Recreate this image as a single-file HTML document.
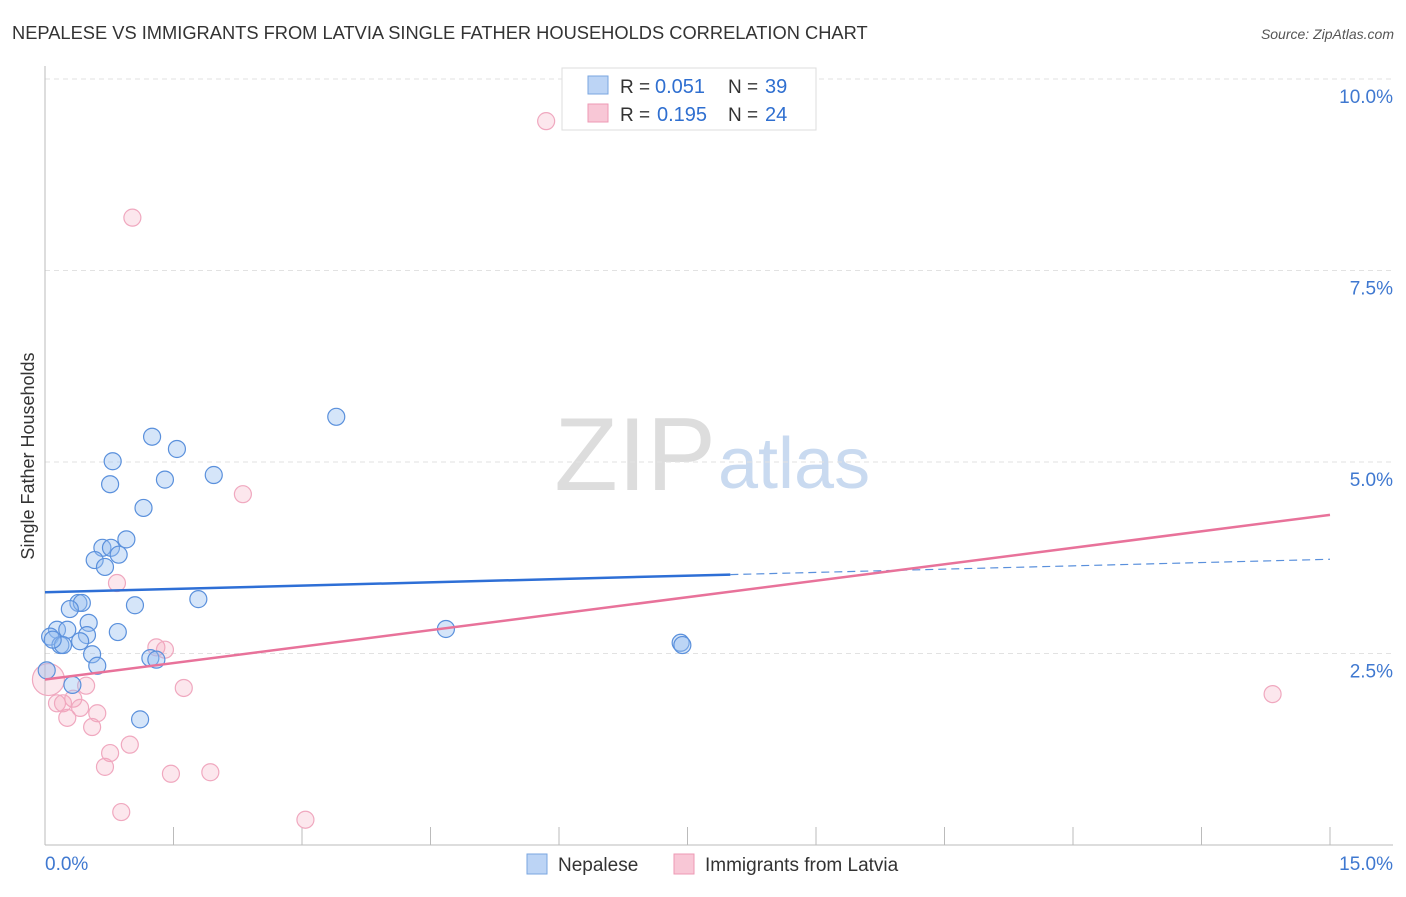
<!DOCTYPE html>
<html><head><meta charset="utf-8"><style>
body{margin:0;background:#fff;font-family:"Liberation Sans",sans-serif}
svg text{font-family:"Liberation Sans",sans-serif}
</style></head><body>
<svg id="c" width="1406" height="892">
<text x="12" y="39" font-size="18.3" fill="#333">NEPALESE VS IMMIGRANTS FROM LATVIA SINGLE FATHER HOUSEHOLDS CORRELATION CHART</text>
<text x="1394" y="39" font-size="14" fill="#555" font-style="italic" text-anchor="end">Source: ZipAtlas.com</text>
<text x="716" y="490" font-size="104" fill="#ddd" font-family="Liberation Serif" text-anchor="end">ZIP</text>
<text x="718" y="488" font-size="72" fill="#c9daf0">atlas</text>
<text x="34" y="456" font-size="18" fill="#333" transform="rotate(-90 34 456)" text-anchor="middle">Single Father Households</text>
<g id="grid"></g><g id="pts"></g><g id="lines"></g>
<g>
<rect x="562" y="68" width="254" height="62" fill="#fff" stroke="#ddd"/>
<rect x="588" y="76" width="20" height="18" fill="#bcd4f5" stroke="#7aa6e0"/>
<rect x="588" y="104" width="20" height="18" fill="#f8c7d6" stroke="#ee9ab4"/>
<text x="620" y="93" font-size="19" fill="#333">R =</text>
<text x="655" y="93" font-size="20" fill="#2f6fd0">0.051</text>
<text x="728" y="93" font-size="19" fill="#333">N =</text>
<text x="765" y="93" font-size="20" fill="#2f6fd0">39</text>
<text x="620" y="121" font-size="19" fill="#333">R =</text>
<text x="657" y="121" font-size="20" fill="#2f6fd0">0.195</text>
<text x="728" y="121" font-size="19" fill="#333">N =</text>
<text x="765" y="121" font-size="20" fill="#2f6fd0">24</text>
</g>
<g>
<rect x="527" y="854" width="20" height="20" fill="#bcd4f5" stroke="#7aa6e0"/>
<text x="558" y="871" font-size="19" fill="#333">Nepalese</text>
<rect x="674" y="854" width="20" height="20" fill="#f8c7d6" stroke="#ee9ab4"/>
<text x="705" y="871" font-size="19" fill="#333">Immigrants from Latvia</text>
</g>
</svg>
<script>
const yTicks=[2.5,5.0,7.5,10.0];
const yTickLabels=["2.5%","5.0%","7.5%","10.0%"];
const xTickLabels=["0.0%","15.0%"];
const nepXraw=[1.25,1.54,0.79,0.76,1.40,1.97,1.15,3.40,0.95,0.67,0.77,0.86,0.58,0.70,0.39,0.43,0.29,1.05,1.79,4.68,0.14,0.26,0.51,0.06,0.49,0.85,0.41,0.18,0.21,0.55,0.61,1.23,1.30,0.32,1.11,7.42,7.44,0.02,0.09];
const nepY=[5.33,5.17,5.01,4.71,4.77,4.83,4.40,5.59,3.99,3.88,3.88,3.79,3.72,3.63,3.16,3.16,3.08,3.13,3.21,2.82,2.81,2.81,2.90,2.72,2.74,2.78,2.66,2.61,2.61,2.49,2.34,2.44,2.42,2.09,1.64,2.64,2.61,2.28,2.68];
const latX=[5.85,1.02,2.31,0.84,1.30,1.40,1.62,0.48,0.33,0.14,0.21,0.26,0.41,0.61,0.55,0.76,0.70,0.99,1.47,1.93,0.89,3.04,14.33,0.04];
const latY=[9.45,8.19,4.58,3.42,2.58,2.55,2.05,2.08,1.91,1.85,1.85,1.66,1.79,1.72,1.54,1.20,1.02,1.31,0.93,0.95,0.43,0.33,1.97,2.16];
const nepLine=[[0,3.30],[8.0,3.53],[15,3.73]];
const latLine=[[0,2.16],[15,4.31]];
const X=v=>45+v/15*1285, Y=v=>845-v/10*766;
const NS="http://www.w3.org/2000/svg";
function mk(p,t,a){const e=document.createElementNS(NS,t);for(const k in a)e.setAttribute(k,a[k]);p.appendChild(e);return e;}
const g=document.getElementById('grid'),P=document.getElementById('pts'),L=document.getElementById('lines');
yTicks.forEach((t,i)=>{
 const l=mk(g,'line',{x1:45,x2:1393,y1:Y(t),y2:Y(t),stroke:'#e2e2e2','stroke-dasharray':'5,4'});
 
 
 const tx=mk(g,'text',{x:1393,y:Y(t)+24,'font-size':19,fill:'#3f78d0','text-anchor':'end'});tx.textContent=yTickLabels[i];
 
 
});
const ax=mk(g,'line',{x1:45,x2:45,y1:66,y2:845,stroke:'#bbb'});


const bx=mk(g,'line',{x1:45,x2:1393,y1:845,y2:845,stroke:'#bbb'});


for(let i=1;i<=10;i++){const t=mk(g,'line',{x1:X(i*1.5),x2:X(i*1.5),y1:827,y2:845,stroke:'#bbb'});
 
 }
[[0,'start',45],[15,'end',1393]].forEach((d,i)=>{const t=mk(g,'text',{x:d[2],y:870,'font-size':19,fill:'#3f78d0','text-anchor':d[1]});t.textContent=xTickLabels[i];
 
 });
latX.forEach((x,i)=>{const c=mk(P,'circle',{cx:X(x),cy:Y(latY[i]),r:i==latX.length-1?16:8.5,fill:'rgba(244,160,185,0.25)',stroke:'#f0a8bf','stroke-width':1.2});
 
 });
nepXraw.forEach((x,i)=>{const c=mk(P,'circle',{cx:X(x),cy:Y(nepY[i]),r:8.5,fill:'rgba(150,190,240,0.4)',stroke:'#5a90dc','stroke-width':1.2});
 
 });
const b1=mk(L,'line',{x1:X(nepLine[0][0]),y1:Y(nepLine[0][1]),x2:X(nepLine[1][0]),y2:Y(nepLine[1][1]),stroke:'#2e6fd6','stroke-width':2.5});


const b2=mk(L,'line',{x1:X(nepLine[1][0]),y1:Y(nepLine[1][1]),x2:X(nepLine[2][0]),y2:Y(nepLine[2][1]),stroke:'#5a90dc','stroke-width':1.2,'stroke-dasharray':'8,5'});


const p1=mk(L,'line',{x1:X(latLine[0][0]),y1:Y(latLine[0][1]),x2:X(latLine[1][0]),y2:Y(latLine[1][1]),stroke:'#e8729a','stroke-width':2.5});


</script>
</body></html>
